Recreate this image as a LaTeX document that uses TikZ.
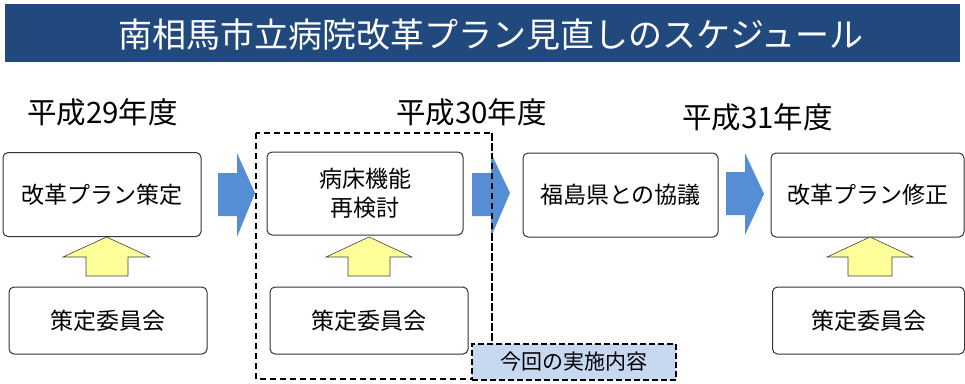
\documentclass[tikz,border=0pt]{standalone}
\usepackage{fontspec}
\setmainfont{Noto Sans CJK JP}
\usetikzlibrary{calc}
\definecolor{titlebg}{RGB}{33,73,125}
\definecolor{flowblue}{RGB}{85,142,213}
\definecolor{upyellow}{RGB}{255,255,153}
\definecolor{labelblue}{RGB}{198,217,241}
\tikzset{
  stepbox/.style={draw=black!80, line width=1pt, rounded corners=5pt, fill=white, align=center, font=\fontsize{23}{29}\selectfont, inner sep=0pt},
  yeartext/.style={font=\fontsize{29.5}{32}\selectfont, inner sep=0pt},
  flowarrow/.style={fill=flowblue, draw=none},
  uparrow/.style={fill=upyellow, draw=black!75, line width=0.6pt},
}
\begin{document}
\begin{tikzpicture}[x=1pt,y=-1pt]
\useasboundingbox (0,0) rectangle (965,383);
% title
\fill[titlebg] (5,4) rectangle (960,62);
\node[font=\fontsize{34}{36}\selectfont, text=white, inner sep=0pt] (title) at (491,35) {南相馬市立病院改革プラン見直しのスケジュール};
% years
\node[yeartext, anchor=west] (y29) at (27,112) {平成29年度};
\node[yeartext, anchor=west] (y30) at (396,112) {平成30年度};
\node[yeartext, anchor=west] (y31) at (682,117) {平成31年度};
% dashed region
\draw[line width=1.6pt, dash pattern=on 6pt off 4pt] (256,133) rectangle (492,379);
% top boxes
\node[stepbox, minimum width=198pt, minimum height=84pt] (b1) at (102,194.5) {改革プラン策定};
\node[stepbox, minimum width=196pt, minimum height=83pt] (b2) at (365,193.5) {病床機能\\再検討};
\node[stepbox, minimum width=195pt, minimum height=84pt] (b3) at (620.5,195) {福島県との協議};
\node[stepbox, minimum width=193pt, minimum height=84pt] (b4) at (867.5,195) {改革プラン修正};
% bottom boxes
\node[stepbox, minimum width=198pt, minimum height=67pt] (c1) at (108,320.5) {策定委員会};
\node[stepbox, minimum width=198pt, minimum height=67pt] (c2) at (369,320.5) {策定委員会};
\node[stepbox, minimum width=192pt, minimum height=67pt] (c4) at (868.5,320.5) {策定委員会};
% blue flow arrows
\fill[flowblue] (218,173) -- (237,173) -- (237,153) -- (255,193) -- (237,237) -- (237,216) -- (218,216) -- cycle;
\fill[flowblue] (472,173) -- (491,173) -- (491,153) -- (510,193) -- (491,237) -- (491,216) -- (472,216) -- cycle;
\fill[flowblue] (726,172) -- (745,172) -- (745,153) -- (764,194) -- (745,235) -- (745,215) -- (726,215) -- cycle;
% dashed line crosses on top of arrow 2
\draw[line width=1.6pt, dash pattern=on 6pt off 4pt] (492,133) -- (492,379);
% yellow up arrows
\draw[uparrow] (86,276) -- (86,257) -- (63,257) -- (106.5,237) -- (150,257) -- (128,257) -- (128,276) -- cycle;
\draw[uparrow] (348,276) -- (348,257) -- (326,257) -- (369,237) -- (412,257) -- (390,257) -- (390,276) -- cycle;
\draw[uparrow] (848,276) -- (848,257) -- (827,257) -- (870,237) -- (913,257) -- (892,257) -- (892,276) -- cycle;
% label
\node[draw=black, fill=labelblue, line width=2.5pt, dash pattern=on 6pt off 3pt, minimum width=204pt, minimum height=36pt, inner sep=0pt, font=\fontsize{21}{23}\selectfont] (lbl) at (574,362) {今回の実施内容};
\end{tikzpicture}
\end{document}
